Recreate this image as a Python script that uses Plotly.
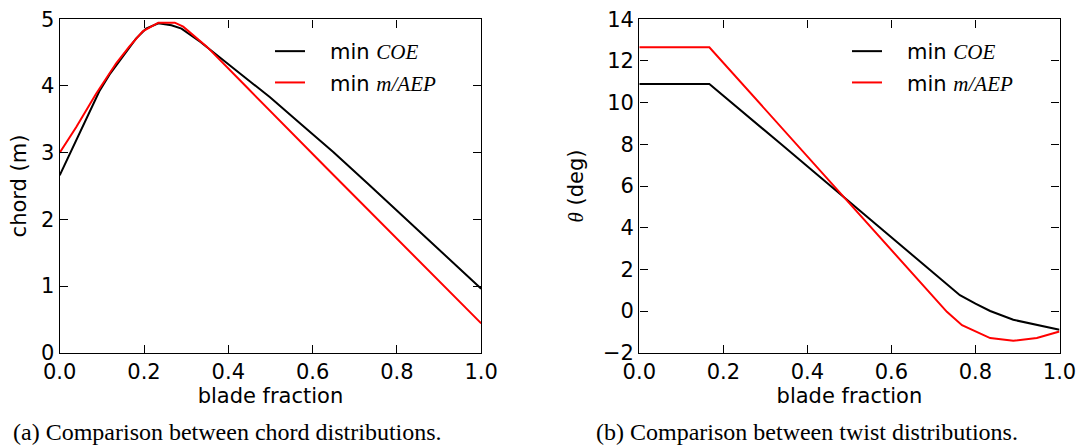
import plotly.graph_objects as go

# ---------------- data ----------------
# (a) chord distributions
frac_chord_coe = [0.0, 0.031, 0.070, 0.094, 0.118, 0.149, 0.181, 0.205, 0.234, 0.265,
                  0.289, 0.334, 0.404, 0.45, 0.499, 0.570, 0.649, 0.73, 0.81, 0.888, 1.0]
chord_coe = [2.66, 3.07, 3.59, 3.92, 4.17, 4.44, 4.71, 4.86, 4.94, 4.91,
             4.86, 4.66, 4.31, 4.08, 3.83, 3.44, 3.01, 2.54, 2.07, 1.62, 0.96]

frac_chord_mae = [0.0, 0.039, 0.086, 0.134, 0.165, 0.197, 0.234, 0.273, 0.293, 0.321,
                  0.349, 0.444, 0.633, 1.0]
chord_mae = [3.00, 3.38, 3.88, 4.34, 4.59, 4.82, 4.95, 4.95, 4.89, 4.74,
             4.59, 3.98, 2.77, 0.44]

# (b) twist distributions
frac_twist_coe = [0.0, 0.1667, 0.335, 0.478, 0.668, 0.727, 0.763, 0.80, 0.835, 0.89, 0.94, 1.0]
twist_coe = [10.89, 10.89, 8.05, 5.6, 2.38, 1.35, 0.76, 0.35, 0.0, -0.42, -0.65, -0.90]

frac_twist_mae = [0.0, 0.1667, 0.732, 0.768, 0.835, 0.890, 0.946, 1.0]
twist_mae = [12.66, 12.66, -0.04, -0.68, -1.30, -1.43, -1.29, -0.98]

x_ticks = [0.0, 0.2, 0.4, 0.6, 0.8, 1.0]
chord_ticks = [0, 1, 2, 3, 4, 5]
twist_ticks = [-2, 0, 2, 4, 6, 8, 10, 12, 14]

captions = ["(a) Comparison between chord distributions.",
            "(b) Comparison between twist distributions."]

# ---------------- styling ----------------
W, H = 1079, 446
SANS = "DejaVu Sans"
SERIF = "Liberation Serif"
FS = 21


def it(s):
    return "<span style=\"font-family:'%s';font-style:italic\">%s</span>" % (SERIF, s)


PAD = "\u00a0\u00a0\u00a0"
name_coe = PAD + "min " + it("COE")
name_mae = PAD + "min " + it("m/AEP")

fig = go.Figure()

fig.add_trace(go.Scatter(x=frac_chord_coe, y=chord_coe, mode="lines", name=name_coe,
                         line=dict(color="black", width=2), xaxis="x", yaxis="y",
                         legend="legend", legendgroup="g1"))
fig.add_trace(go.Scatter(x=frac_chord_mae, y=chord_mae, mode="lines", name=name_mae,
                         line=dict(color="#ff0000", width=2), xaxis="x", yaxis="y",
                         legend="legend", legendgroup="g2"))
fig.add_trace(go.Scatter(x=frac_twist_coe, y=twist_coe, mode="lines", name=name_coe,
                         line=dict(color="black", width=2), xaxis="x2", yaxis="y2",
                         legend="legend2", legendgroup="h1"))
fig.add_trace(go.Scatter(x=frac_twist_mae, y=twist_mae, mode="lines", name=name_mae,
                         line=dict(color="#ff0000", width=2), xaxis="x2", yaxis="y2",
                         legend="legend2", legendgroup="h2"))

ax_common = dict(showline=True, linecolor="black", linewidth=1.4, mirror="ticks",
                 ticks="inside", ticklen=8, tickwidth=1, tickcolor="black",
                 showgrid=False, zeroline=False, automargin=False,
                 tickfont=dict(family=SANS, size=FS, color="black"))

x0a, x1a = 59.7 / W, 481.2 / W
x0b, x1b = 639.3 / W, 1059.5 / W
y0, y1 = 1 - 352.7 / H, 1 - 19.3 / H

fig.update_layout(
    width=W, height=H,
    margin=dict(l=0, r=0, t=0, b=0, autoexpand=False),
    paper_bgcolor="white", plot_bgcolor="white",
    font=dict(family=SANS, size=FS, color="black"),
    xaxis=dict(domain=[x0a, x1a], range=[0, 1], tickvals=x_ticks, tickformat=".1f",
               anchor="y", title=dict(text="blade fraction", standoff=1,
                                      font=dict(family=SANS, size=FS)), **ax_common),
    yaxis=dict(domain=[y0, y1], range=[0, 5], tickvals=chord_ticks, anchor="x",
               title=dict(text="chord (m)", standoff=8,
                          font=dict(family=SANS, size=FS)), **ax_common),
    xaxis2=dict(domain=[x0b, x1b], range=[0, 1], tickvals=x_ticks, tickformat=".1f",
                anchor="y2", title=dict(text="blade fraction", standoff=1,
                                        font=dict(family=SANS, size=FS)), **ax_common),
    yaxis2=dict(domain=[y0, y1], range=[-2, 14], tickvals=twist_ticks, anchor="x2",
                title=dict(text=it("θ") + " (deg)", standoff=13,
                           font=dict(family=SANS, size=FS)), **ax_common),
    legend=dict(x=270 / W, y=1 - 31 / H, xanchor="left", yanchor="top",
                bgcolor="rgba(0,0,0,0)", borderwidth=0, tracegroupgap=1,
                font=dict(family=SANS, size=FS, color="black")),
    legend2=dict(x=847 / W, y=1 - 31 / H, xanchor="left", yanchor="top",
                 bgcolor="rgba(0,0,0,0)", borderwidth=0, tracegroupgap=1,
                 font=dict(family=SANS, size=FS, color="black")),
    annotations=[
        dict(text=captions[0], x=227.5 / W, y=0, xref="paper", yref="paper",
             xanchor="center", yanchor="bottom", showarrow=False, borderpad=0,
             font=dict(family=SERIF, size=24, color="black")),
        dict(text=captions[1], x=807 / W, y=0, xref="paper", yref="paper",
             xanchor="center", yanchor="bottom", showarrow=False, borderpad=0,
             font=dict(family=SERIF, size=24, color="black")),
    ],
)

fig.write_html("out.html")
